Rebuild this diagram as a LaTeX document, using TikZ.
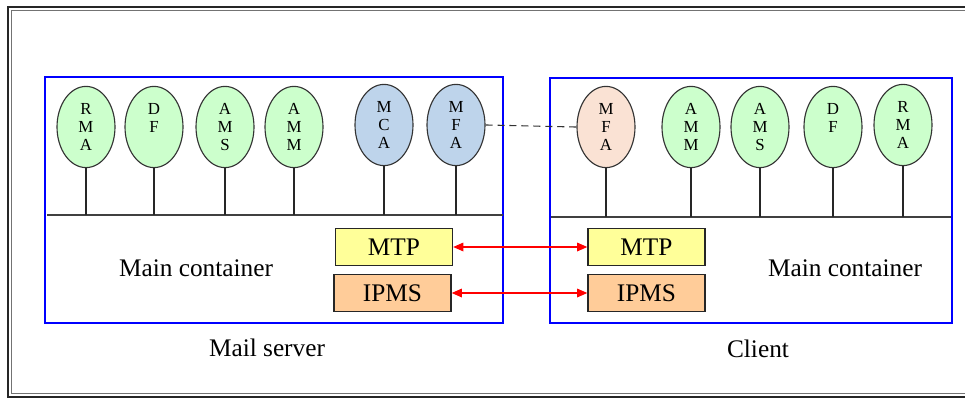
\documentclass[tikz,border=0pt]{standalone}
\usepackage{fontspec}
\setmainfont{Liberation Serif}
\usetikzlibrary{arrows.meta,shapes.geometric}
\definecolor{agentgreen}{RGB}{204,255,204}
\definecolor{agentblue}{RGB}{190,212,235}
\definecolor{agentpeach}{RGB}{250,226,212}
\definecolor{mtpyellow}{RGB}{255,255,153}
\definecolor{ipmsorange}{RGB}{255,204,153}
\tikzset{
  % agent ellipse, letters stacked vertically
  agent/.style={draw=black!80, ellipse, line width=0.8pt, minimum width=1.45cm,
                minimum height=2.03cm, inner sep=0pt, align=center,
                font=\fontsize{12}{12.6}\selectfont},
  % container box (blue)
  contbox/.style={draw=blue, line width=1.6pt},
  % service box (MTP / IPMS)
  svc/.style={draw=black!85, line width=0.9pt, minimum width=2.92cm,
              minimum height=0.92cm, inner sep=0pt, font=\fontsize{18}{21}\selectfont},
  stem/.style={black!85, line width=0.8pt},
  bus/.style={black!75, line width=0.9pt},
  link/.style={red, line width=1.4pt,
               {Triangle[length=0.26cm,width=0.21cm]}-{Triangle[length=0.26cm,width=0.21cm]}},
  lbl/.style={font=\fontsize{18}{21}\selectfont, inner sep=0pt},
}
\begin{document}
\begin{tikzpicture}
\useasboundingbox (0,0) rectangle (24.125,9.975);
\clip (0,0) rectangle (24.125,9.975);

% =================== FRAME ===================
\draw[black!85, line width=1.3pt] (0.21,0.05) rectangle (24.7,9.8);
\draw[black!55, line width=0.6pt] (0.29,0.14) rectangle (24.6,9.71);

% =================== CONTAINERS ===================
\node[contbox, minimum width=11.45cm, minimum height=6.15cm, inner sep=0pt] (server) at (6.85,4.975) {};
\node[contbox, minimum width=10.05cm, minimum height=6.125cm, inner sep=0pt] (client) at (18.775,4.9625) {};

\coordinate (busL) at (1.175,4.6);
\coordinate (busR) at (13.775,4.55);
\draw[bus] (busL) -- (12.575,4.6);
\draw[bus] (busR) -- (23.775,4.55);

% =================== AGENTS: MAIL SERVER ===================
\node[agent, fill=agentgreen] (rmaL) at (2.15,6.8) {R\\M\\A};
\node[agent, fill=agentgreen] (dfL)  at (3.85,6.8) {D\\F\\~};
\node[agent, fill=agentgreen] (amsL) at (5.625,6.8) {A\\M\\S};
\node[agent, fill=agentgreen] (ammL) at (7.35,6.8) {A\\M\\M};
\node[agent, fill=agentblue]  (mcaL) at (9.6,6.85) {M\\C\\A};
\node[agent, fill=agentblue]  (mfaL) at (11.4,6.85) {M\\F\\A};

% =================== AGENTS: CLIENT ===================
\node[agent, fill=agentpeach] (mfaR) at (15.15,6.8) {M\\F\\A};
\node[agent, fill=agentgreen] (ammR) at (17.275,6.8) {A\\M\\M};
\node[agent, fill=agentgreen] (amsR) at (19.0,6.8) {A\\M\\S};
\node[agent, fill=agentgreen] (dfR)  at (20.825,6.8) {D\\F\\~};
\node[agent, fill=agentgreen] (rmaR) at (22.575,6.85) {R\\M\\A};

% stems down to the bus
\foreach \a in {rmaL,dfL,amsL,ammL,mcaL,mfaL}
  \draw[stem] (\a.south) -- (\a.south |- busL);
\foreach \a in {mfaR,ammR,amsR,dfR,rmaR}
  \draw[stem] (\a.south) -- (\a.south |- busR);

% MFA <-> MFA
\draw[black!80, dash pattern=on 5pt off 3.5pt, line width=0.8pt] (mfaL.east) -- (mfaR.west);

% =================== MTP / IPMS ===================
\node[svc, fill=mtpyellow]  (mtpL)  at (9.85,3.8) {MTP};
\node[svc, fill=ipmsorange] (ipmsL) at (9.8125,2.65) {IPMS};
\node[svc, fill=mtpyellow]  (mtpR)  at (16.1625,3.8) {MTP};
\node[svc, fill=ipmsorange] (ipmsR) at (16.1625,2.65) {IPMS};

\draw[link] (mtpL.east) -- (mtpR.west);
\draw[link] (ipmsL.east) -- (ipmsR.west);

% =================== LABELS ===================
\node[lbl] (mainL) at (4.9,3.275) {Main container};
\node[lbl] (mainR) at (21.125,3.275) {Main container};
\node[lbl] (srvname) at (6.675,1.275) {Mail server};
\node[lbl] (cliname) at (18.95,1.25) {Client};

\end{tikzpicture}
\end{document}
